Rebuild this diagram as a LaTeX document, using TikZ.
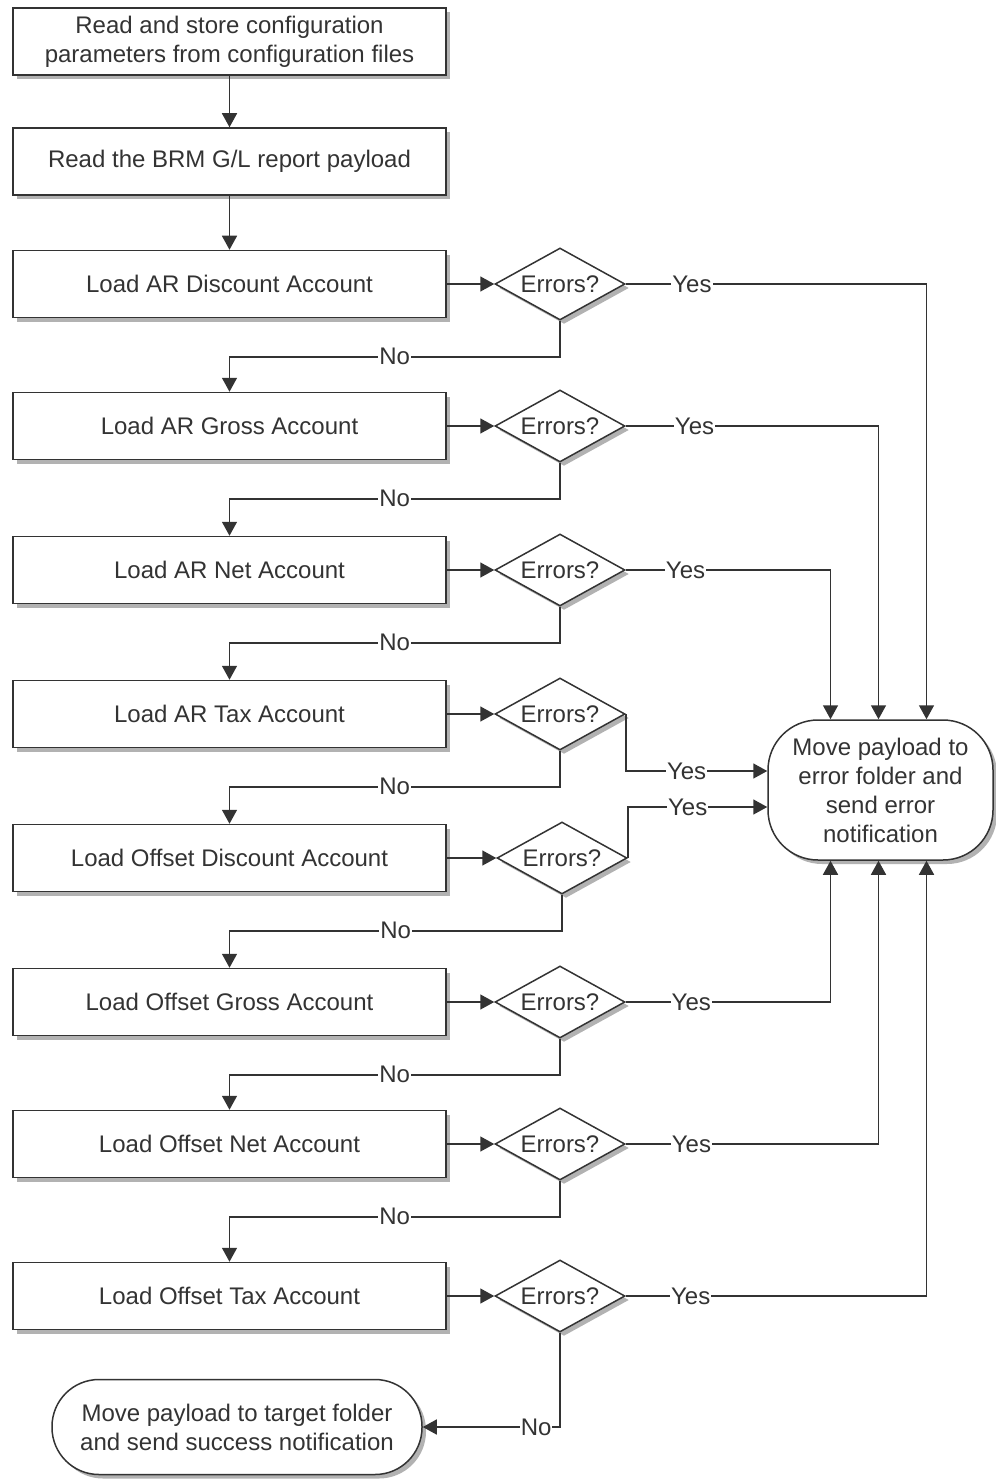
\documentclass[tikz,border=0pt]{standalone}
\usepackage{fontspec}
\setmainfont{Liberation Sans}
\usetikzlibrary{shapes.geometric,arrows.meta,shadows,calc}
\begin{document}
\begin{tikzpicture}[x=1pt,y=-1pt,
  txt/.style={font=\fontsize{24}{29}\selectfont, text=black!80},
  shad/.style={drop shadow={shadow xshift=4pt,shadow yshift=-4pt,fill=black!30,opacity=1}},
  box/.style={txt, shad, draw=black!80, line width=1.5pt, fill=white, minimum width=433pt, minimum height=67pt, inner sep=0pt, align=center},
  dec/.style={txt, shad, diamond, draw=black!80, line width=1.5pt, fill=white, minimum width=130pt, minimum height=72pt, inner sep=0pt, aspect=1.8},
  term/.style={txt, shad, draw=black!80, line width=1.5pt, fill=white, inner sep=0pt, align=center},
  arr/.style={draw=black!80, line width=1.5pt, -{Triangle[length=14pt,width=15pt]}},
  lbl/.style={txt, fill=white, inner sep=1pt}]
\useasboundingbox (0,0) rectangle (995,1479);

\node[box] (b1) at (229.5,41.5) {Read and store configuration\\parameters from configuration files};
\node[box] (b2) at (229.5,161.5) {Read the BRM G/L report payload};
\node[box] (b3) at (229.5,284) {Load AR Discount Account};
\node[box] (b4) at (229.5,426) {Load AR Gross Account};
\node[box] (b5) at (229.5,570) {Load AR Net Account};
\node[box] (b6) at (229.5,714) {Load AR Tax Account};
\node[box] (b7) at (229.5,858) {Load Offset Discount Account};
\node[box] (b8) at (229.5,1002) {Load Offset Gross Account};
\node[box] (b9) at (229.5,1144) {Load Offset Net Account};
\node[box] (b10) at (229.5,1296) {Load Offset Tax Account};

\node[dec] (d1) at (560,284) {Errors?};
\node[dec] (d2) at (560,426) {Errors?};
\node[dec] (d3) at (560,570) {Errors?};
\node[dec] (d4) at (560,714) {Errors?};
\node[dec] (d5) at (562,858) {Errors?};
\node[dec] (d6) at (560,1002) {Errors?};
\node[dec] (d7) at (560,1144) {Errors?};
\node[dec] (d8) at (560,1296) {Errors?};

\node[term, minimum width=225pt, minimum height=140pt, rounded corners=50pt] (e) at (880.5,790)
  {Move payload to\\error folder and\\send error\\notification};
\node[term, minimum width=370pt, minimum height=95pt, rounded corners=47pt] (s) at (237,1427)
  {Move payload to target folder\\and send success notification};

\draw[arr] (b1) -- (b2);
\draw[arr] (b2) -- (b3);
\foreach \i/\j in {3/1,4/2,5/3,6/4,7/5,8/6,9/7,10/8}{
  \draw[arr] (b\i.east) -- (d\j.west);
}
\foreach \j/\i in {1/4,2/5,3/6,4/7,5/8,6/9,7/10}{
  \draw[arr] (d\j.south) -- ++(0,36) -| node[lbl,pos=0.25]{No} (b\i.north);
}
\draw[arr] (d8.south) |- node[lbl,pos=0.587]{No} (s.east);

\draw[arr] (d1.east) -| node[lbl,pos=0.11]{Yes} ([xshift=46pt]e.north);
\draw[arr] (d2.east) -| node[lbl,pos=0.136]{Yes} ([xshift=-2pt]e.north);
\draw[arr] (d3.east) -| node[lbl,pos=0.146]{Yes} ([xshift=-50pt]e.north);
\draw[arr] (d4.east) |- node[lbl,pos=0.715]{Yes} ([yshift=19pt]e.west);
\draw[arr] (d5.east) |- node[lbl,pos=0.715]{Yes} ([yshift=-17pt]e.west);
\draw[arr] (d6.east) -| node[lbl,pos=0.16]{Yes} ([xshift=-50pt]e.south);
\draw[arr] (d7.east) -| node[lbl,pos=0.13]{Yes} ([xshift=-2pt]e.south);
\draw[arr] (d8.east) -| node[lbl,pos=0.108]{Yes} ([xshift=46pt]e.south);
\end{tikzpicture}
\end{document}
